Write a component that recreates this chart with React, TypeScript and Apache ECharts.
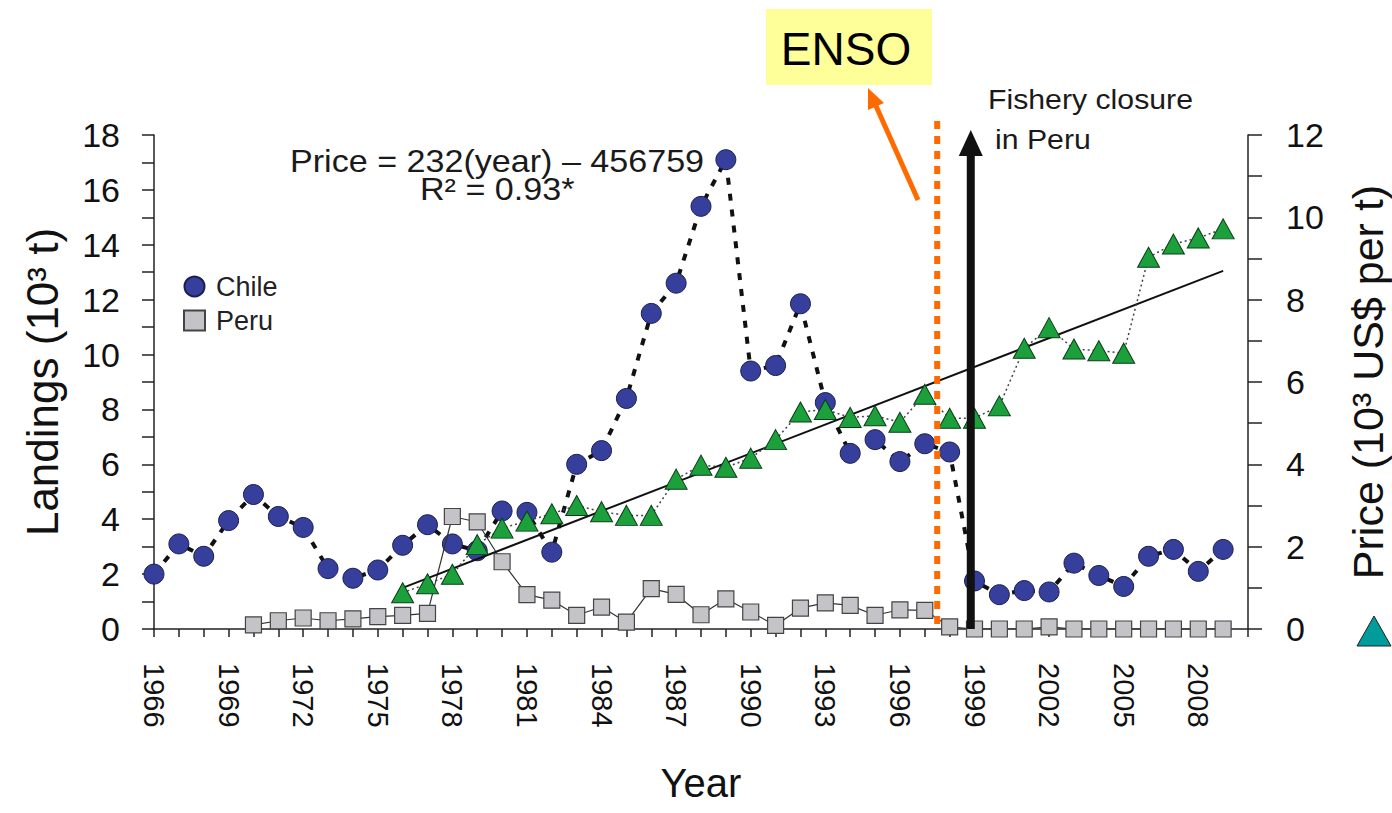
import React, { useEffect, useRef } from 'react';
import * as echarts from 'echarts';

const FONT = "'Liberation Sans', Arial, Helvetica, sans-serif";

// ---- data ----
const chileYears = [1966, 1967, 1968, 1969, 1970, 1971, 1972, 1973, 1974, 1975, 1976, 1977, 1978, 1979, 1980, 1981, 1982, 1983, 1984, 1985, 1986, 1987, 1988, 1989, 1990, 1991, 1992, 1993, 1994, 1995, 1996, 1997, 1998, 1999, 2000, 2001, 2002, 2003, 2004, 2005, 2006, 2007, 2008, 2009];
const chileLandings = [2.0, 3.1, 2.65, 3.95, 4.9, 4.1, 3.7, 2.2, 1.85, 2.15, 3.05, 3.8, 3.1, 2.85, 4.3, 4.25, 2.8, 6.0, 6.5, 8.4, 11.5, 12.6, 15.4, 17.1, 9.4, 9.6, 11.85, 8.25, 6.4, 6.9, 6.1, 6.75, 6.45, 1.75, 1.25, 1.4, 1.35, 2.4, 1.95, 1.55, 2.65, 2.9, 2.1, 2.9];

const peruYears = [1970, 1971, 1972, 1973, 1974, 1975, 1976, 1977, 1978, 1979, 1980, 1981, 1982, 1983, 1984, 1985, 1986, 1987, 1988, 1989, 1990, 1991, 1992, 1993, 1994, 1995, 1996, 1997, 1998, 1999, 2000, 2001, 2002, 2003, 2004, 2005, 2006, 2007, 2008, 2009];
const peruLandings = [0.15, 0.3, 0.4, 0.3, 0.37, 0.45, 0.5, 0.57, 4.1, 3.9, 2.45, 1.25, 1.05, 0.5, 0.8, 0.25, 1.47, 1.26, 0.52, 1.1, 0.62, 0.13, 0.76, 0.95, 0.86, 0.5, 0.7, 0.68, 0.08, 0, 0, 0, 0.08, 0, 0, 0, 0, 0, 0, 0];

const priceYears = [1976, 1977, 1978, 1979, 1980, 1981, 1982, 1983, 1984, 1985, 1986, 1987, 1988, 1989, 1990, 1991, 1992, 1993, 1994, 1995, 1996, 1997, 1998, 1999, 2000, 2001, 2002, 2003, 2004, 2005, 2006, 2007, 2008, 2009];
const priceValues = [0.88, 1.1, 1.33, 2.05, 2.45, 2.62, 2.8, 3.0, 2.85, 2.76, 2.76, 3.64, 3.98, 3.93, 4.15, 4.6, 5.27, 5.33, 5.14, 5.18, 5.02, 5.7, 5.12, 5.12, 5.42, 6.82, 7.32, 6.8, 6.76, 6.7, 9.03, 9.35, 9.5, 9.72];

const trendYears = [1976, 2009];
const trendPrice = [1.0, 8.7];

const xTickLabels = [1966, 1969, 1972, 1975, 1978, 1981, 1984, 1987, 1990, 1993, 1996, 1999, 2002, 2005, 2008];
const leftTickLabels = [0, 2, 4, 6, 8, 10, 12, 14, 16, 18];
const rightTickLabels = [0, 2, 4, 6, 8, 10, 12];

const ensoYear = 1997.5;
const closureYear = 1998.85;

const pair = (xs: number[], ys: number[]) => xs.map((x, i) => [x, ys[i]]);

const axisLineStyle = { color: '#222', width: 1.5 };

const option: any = {
  animation: false,
  backgroundColor: '#ffffff',
  textStyle: { fontFamily: FONT },
  grid: { left: 154, right: 144, top: 135, bottom: 184, containLabel: false, outerBoundsMode: 'none' },
  legend: {
    orient: 'vertical',
    left: 183,
    top: 273,
    itemWidth: 21,
    itemHeight: 20,
    itemGap: 7,
    padding: 0,
    selectedMode: false,
    textStyle: { fontSize: 27, color: '#222', fontFamily: FONT, padding: [0, 0, 0, 6] },
    data: [
      { name: 'Chile', icon: 'circle' },
      { name: 'Peru', icon: 'rect' },
    ],
  },
  xAxis: {
    type: 'value',
    min: 1966,
    max: 2010,
    interval: 1,
    name: 'Year',
    nameLocation: 'middle',
    nameGap: 134,
    nameTextStyle: { fontSize: 40, color: '#111', fontFamily: FONT },
    axisLine: { show: true, onZero: false, lineStyle: axisLineStyle },
    axisTick: { show: true, inside: false, length: 8, lineStyle: axisLineStyle },
    splitLine: { show: false },
    axisLabel: {
      rotate: -90,
      margin: 34,
      fontSize: 29,
      color: '#111',
      fontFamily: FONT,
      formatter: (v: number) => (xTickLabels.includes(v) ? String(v) : ''),
    },
  },
  yAxis: [
    {
      type: 'value',
      min: 0,
      max: 18,
      interval: 1,
      position: 'left',
      name: 'Landings (10³ t)',
      nameLocation: 'middle',
      nameGap: 90,
      nameTextStyle: { fontSize: 44, color: '#111', fontFamily: FONT },
      axisLine: { show: true, lineStyle: axisLineStyle },
      axisTick: { show: true, inside: false, length: 12, lineStyle: axisLineStyle },
      splitLine: { show: false },
      axisLabel: {
        margin: 34,
        fontSize: 34,
        color: '#111',
        fontFamily: FONT,
        formatter: (v: number) => (leftTickLabels.includes(v) ? String(v) : ''),
      },
    },
    {
      type: 'value',
      min: 0,
      max: 12,
      interval: 1,
      position: 'right',
      name: 'Price (10³ US$ per t)',
      nameLocation: 'middle',
      nameGap: 98,
      nameTextStyle: { fontSize: 43, color: '#111', fontFamily: FONT },
      axisLine: { show: true, lineStyle: axisLineStyle },
      axisTick: { show: true, inside: false, length: 14, lineStyle: axisLineStyle },
      splitLine: { show: false },
      axisLabel: {
        margin: 38,
        fontSize: 34,
        color: '#111',
        fontFamily: FONT,
        formatter: (v: number) => (rightTickLabels.includes(v) ? String(v) : ''),
      },
    },
  ],
  series: [
    {
      name: 'Chile',
      type: 'line',
      yAxisIndex: 0,
      z: 3,
      data: pair(chileYears, chileLandings),
      symbol: 'circle',
      symbolSize: 20,
      itemStyle: { color: '#363f9c', borderColor: '#1b1f50', borderWidth: 1 },
      lineStyle: { color: '#111', width: 4, type: [7, 9] },
      emphasis: { disabled: true },
    },
    {
      name: 'Peru',
      type: 'line',
      yAxisIndex: 0,
      z: 4,
      data: pair(peruYears, peruLandings),
      symbol: 'rect',
      symbolSize: 16,
      itemStyle: { color: '#c4c4c8', borderColor: '#444', borderWidth: 1.2 },
      lineStyle: { color: '#333', width: 1.2 },
      emphasis: { disabled: true },
    },
    {
      name: 'Price trend',
      type: 'line',
      yAxisIndex: 1,
      z: 5,
      data: pair(trendYears, trendPrice),
      symbol: 'none',
      lineStyle: { color: '#111', width: 2 },
      emphasis: { disabled: true },
    },
    {
      name: 'Price',
      type: 'line',
      yAxisIndex: 1,
      z: 6,
      data: pair(priceYears, priceValues),
      symbol: 'triangle',
      symbolSize: [22, 20],
      itemStyle: { color: '#1ba03c', borderColor: '#0b3d18', borderWidth: 1 },
      lineStyle: { color: '#444', width: 1.5, type: [2, 3] },
      emphasis: { disabled: true },
    },
  ],
};

const textEl = (text: string, x: number, y: number, fontSize: number, align: string, scaleX = 1) => ({
  type: 'text',
  x,
  y,
  scaleX,
  z: 60,
  style: { text, fontSize, fontFamily: FONT, fill: '#1a1a1a', align, verticalAlign: 'middle' },
});

export default function App() {
  const ref = useRef<HTMLDivElement>(null);
  useEffect(() => {
    const el = ref.current;
    if (!el) return;
    const chart = echarts.init(el, null, { renderer: 'svg' });
    chart.setOption(option);
    const xE = chart.convertToPixel({ xAxisIndex: 0 }, ensoYear) as number;
    const xC = chart.convertToPixel({ xAxisIndex: 0 }, closureYear) as number;
    const yBase = chart.convertToPixel({ yAxisIndex: 0 }, 0) as number;
    const orange = '#ff6a00';
    chart.setOption({
      graphic: [
        // ENSO box
        { type: 'rect', z: 50, shape: { x: 766, y: 9, width: 166, height: 76 }, style: { fill: '#ffff99' } },
        { type: 'text', z: 60, x: 846, y: 49, style: { text: 'ENSO', fontSize: 46, fontFamily: FONT, fill: '#000', align: 'center', verticalAlign: 'middle' } },
        // orange arrow to ENSO
        { type: 'line', z: 50, shape: { x1: 918, y1: 200, x2: 876, y2: 106 }, style: { stroke: orange, lineWidth: 5 } },
        { type: 'polygon', z: 50, shape: { points: [[868, 88], [884, 103], [868, 110]] }, style: { fill: orange } },
        // ENSO dotted vertical
        { type: 'line', z: 50, shape: { x1: xE, y1: 121, x2: xE, y2: yBase }, style: { stroke: orange, lineWidth: 6, lineDash: [8, 7] } },
        // fishery closure arrow
        { type: 'line', z: 55, shape: { x1: xC, y1: yBase, x2: xC, y2: 150 }, style: { stroke: '#111', lineWidth: 8 } },
        { type: 'polygon', z: 55, shape: { points: [[xC - 12, 156], [xC + 12, 156], [xC, 130]] }, style: { fill: '#111' } },
        textEl('Fishery closure', 988, 100, 27, 'left', 1.12),
        textEl('in Peru', 995, 140, 27, 'left', 1.12),
        // regression equation
        textEl('Price = 232(year) – 456759', 290, 162, 31, 'left', 1.1),
        textEl('R² = 0.93*', 420, 190, 31, 'left', 1.1),
        // teal triangle marker beside right axis name
        { type: 'polygon', z: 50, shape: { points: [[1374, 616], [1391, 646], [1357, 646]] }, style: { fill: '#009b9b', stroke: '#222', lineWidth: 1 } },
      ],
    });
    return () => chart.dispose();
  }, []);
  return <div ref={ref} style={{ position: 'fixed', left: 0, top: 0, width: 1392, height: 813, background: '#fff' }} />;
}
